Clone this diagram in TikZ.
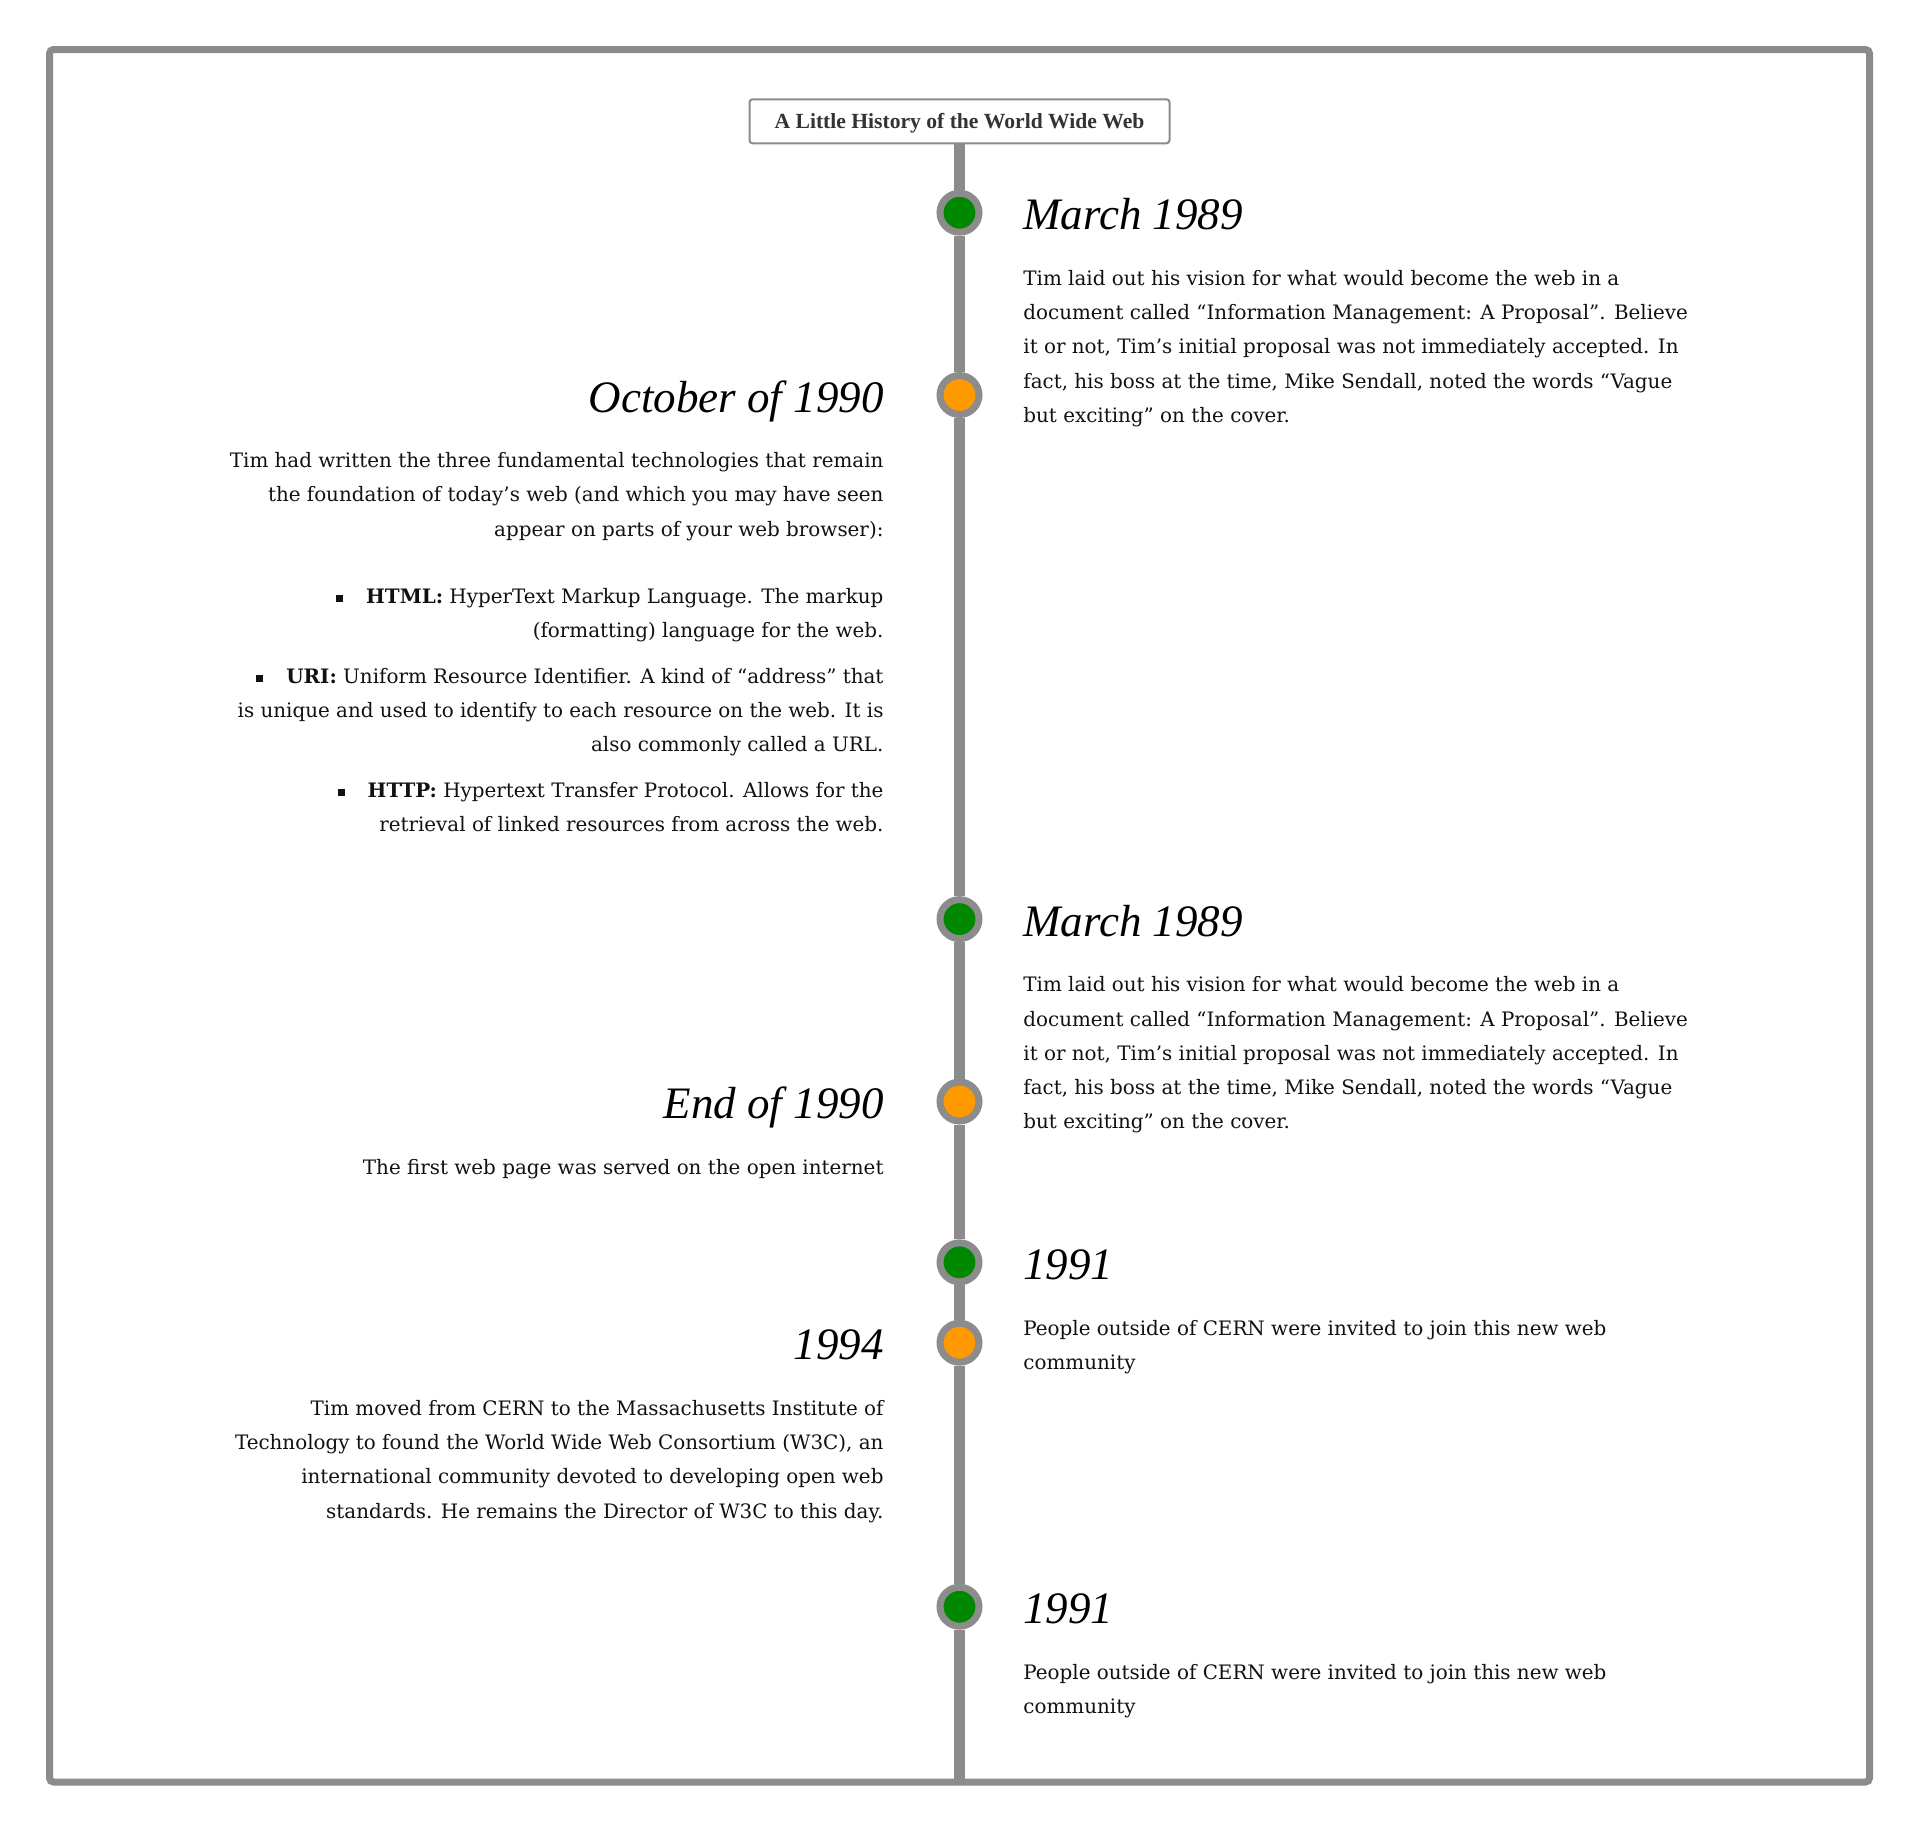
\documentclass[tikz,border=0pt]{standalone}
\usepackage{fontspec}
\setmainfont{DejaVu Serif}
\newfontfamily\headfont{Liberation Serif}
\definecolor{linegray}{RGB}{140,140,140}
\definecolor{dotgreen}{RGB}{0,136,0}
\definecolor{dotorange}{RGB}{255,153,0}
\definecolor{titletext}{RGB}{51,51,51}
\definecolor{bodytext}{RGB}{17,17,17}
\newcommand\sqbullet{\raisebox{1.5pt}{\rule{7pt}{7pt}}\hspace{23pt}}
\tikzset{
  frame/.style={draw=linegray, line width=7pt, rounded corners=4pt},
  axis/.style={draw=linegray, line width=11pt},
  dotg/.style={circle, draw=linegray, line width=7pt, fill=dotgreen, minimum size=39pt, inner sep=0pt},
  doto/.style={dotg, fill=dotorange},
  titlebox/.style={draw=linegray, line width=2pt, rounded corners=3pt, fill=white, minimum width=420pt, minimum height=44pt, inner sep=0pt, text=titletext, font=\headfont\bfseries\fontsize{21.6}{26}\selectfont, text height=14.3pt, text depth=0pt},
  headR/.style={anchor=base west, inner sep=0pt, font=\headfont\itshape\fontsize{45}{54}\selectfont, text=black},
  headL/.style={headR, anchor=base east},
  bodyR/.style={anchor=base west, inner sep=0pt, align=left, font=\fontsize{19.9}{34.27}\selectfont, text=bodytext},
  bodyL/.style={bodyR, anchor=base east, align=right},
}
\begin{document}
\begin{tikzpicture}[x=1pt, y=-1pt]
\useasboundingbox (0,0) rectangle (1919,1832);
\draw[frame] (49.5,49.5) rectangle (1869.5,1782);
\coordinate (bot) at (959.5,1782);
\node[titlebox] (title) at (959.5,121.3) {A Little History of the World Wide Web};
\node[dotg] (d1) at (959.5,212.7) {};
\node[doto] (d2) at (959.5,395) {};
\node[dotg] (d3) at (959.5,919.1) {};
\node[doto] (d4) at (959.5,1101.5) {};
\node[dotg] (d5) at (959.5,1262.3) {};
\node[doto] (d6) at (959.5,1342.7) {};
\node[dotg] (d7) at (959.5,1606.7) {};
\draw[axis] (title.south) -- (d1) -- (d2) -- (d3) -- (d4) -- (d5) -- (d6) -- (d7) -- (bot);
% right column (body nodes are placed by the baseline of their last line)
\node[headR] (h1) at (1023.2,229.7) {March 1989};
\node[bodyR] (b1) at (1023.2,422.5) {Tim laid out his vision for what would become the web in a\\
document called “Information Management: A Proposal”. Believe\\
it or not, Tim’s initial proposal was not immediately accepted. In\\
fact, his boss at the time, Mike Sendall, noted the words “Vague\\
but exciting” on the cover.};
\node[headR] (h3) at (1023.2,936.1) {March 1989};
\node[bodyR] (b3) at (1023.2,1128.9) {Tim laid out his vision for what would become the web in a\\
document called “Information Management: A Proposal”. Believe\\
it or not, Tim’s initial proposal was not immediately accepted. In\\
fact, his boss at the time, Mike Sendall, noted the words “Vague\\
but exciting” on the cover.};
\node[headR] (h5) at (1023.2,1279.3) {1991};
\node[bodyR] (b5) at (1023.2,1369.6) {People outside of CERN were invited to join this new web\\
community};
\node[headR] (h7) at (1023.2,1623.7) {1991};
\node[bodyR] (b7) at (1023.2,1713.7) {People outside of CERN were invited to join this new web\\
community};
% left column
\node[headL] (h2) at (883.7,412) {October of 1990};
\node[bodyL] (b2) at (883.7,831.7) {Tim had written the three fundamental technologies that remain\\
the foundation of today’s web (and which you may have seen\\
appear on parts of your web browser):\\[33pt]
\sqbullet\textbf{HTML:} HyperText Markup Language. The markup\\
(formatting) language for the web.\\[11.3pt]
\sqbullet\textbf{URI:} Uniform Resource Identifier. A kind of “address” that\\
is unique and used to identify to each resource on the web. It is\\
also commonly called a URL.\\[11.3pt]
\sqbullet\textbf{HTTP:} Hypertext Transfer Protocol. Allows for the\\
retrieval of linked resources from across the web.};
\node[headL] (h4) at (883.7,1118.5) {End of 1990};
\node[bodyL] (b4) at (883.7,1174.2) {The first web page was served on the open internet};
\node[headL] (h6) at (883.7,1359.7) {1994};
\node[bodyL] (b6) at (883.7,1518.2) {Tim moved from CERN to the Massachusetts Institute of\\
Technology to found the World Wide Web Consortium (W3C), an\\
international community devoted to developing open web\\
standards. He remains the Director of W3C to this day.};
\end{tikzpicture}
\end{document}
